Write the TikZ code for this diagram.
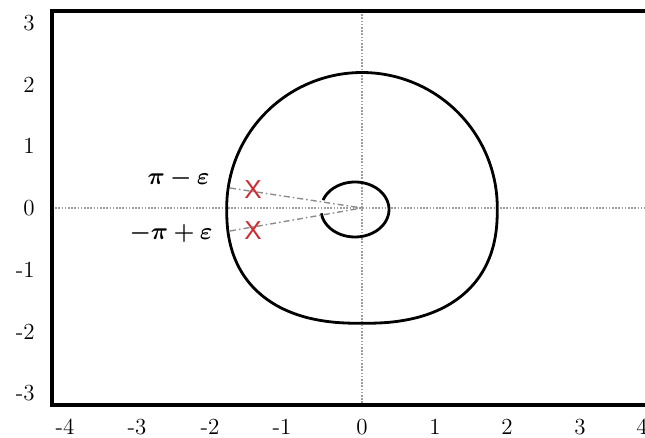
\documentclass[tikz,border=0pt]{standalone}
\usepackage{amsmath,bm}
\usepackage{fontspec}
\newfontfamily\polefont{Liberation Sans}
\definecolor{polered}{RGB}{205,45,50}
\begin{document}
\begin{tikzpicture}[x=0.5pt,y=-0.5pt,
  frame/.style={line width=2pt},
  curve/.style={line width=1.4pt, line join=round},
  axisdot/.style={gray!75, line width=0.6pt, dash pattern=on 0.8pt off 0.8pt},
  ray/.style={gray!90, line width=0.7pt, dash pattern=on 3pt off 1.5pt on 0.8pt off 1.5pt},
  ticklab/.style={font=\fontsize{11.5}{13}\selectfont, inner sep=0pt},
  anglab/.style={font=\fontsize{12}{14}\selectfont, inner sep=0pt, anchor=base east},
  pole/.style={text=polered, font=\polefont\fontsize{13}{15}\selectfont, inner sep=0pt}]
\useasboundingbox (0,0) rectangle (645,438);
\clip (0,0) rectangle (645,438);

% axes
\coordinate (O) at (362,208);
\coordinate (hl) at (52,208);
\coordinate (hr) at (645,208);
\coordinate (vt) at (362,11);
\coordinate (vb) at (362,405);
\draw[axisdot] (hl) -- (hr);
\draw[axisdot] (vt) -- (vb);

% outer contour: circular upper half, flattened lower half
\draw[curve]
  plot[domain=0:180,samples=90,variable=\t]
    ({362+135.3*cos(\t)},{207.8-135.3*sin(\t)})
  -- plot[domain=0.5:89.5,samples=60,variable=\t]
    ({362-135.3*exp(0.833*ln(cos(\t)))},{207.8+115.5*exp(0.833*ln(sin(\t)))})
  -- plot[domain=0.5:89.5,samples=60,variable=\t]
    ({362+135.3*exp(0.833*ln(sin(\t)))},{207.8+115.5*exp(0.833*ln(cos(\t)))})
  -- cycle;

% inner contour
\draw[curve] plot[domain=-172:160,samples=80,variable=\t]
  ({355+34*cos(\t)},{209.5-27.5*sin(\t)});

% rays
\coordinate (ru) at (230,188);
\coordinate (rl) at (230,231);
\draw[ray] (ru) -- (O);
\draw[ray] (rl) -- (O);

% poles
\node[pole] (xu) at (253,190) {X};
\node[pole] (xl) at (253,231) {X};

% angle labels
\node[anglab] (au) at (210,185) {$\bm{\pi-\varepsilon}$};
\node[anglab] (al) at (213,240) {$\bm{-\pi+\varepsilon}$};

% frame
\draw[frame] (690,11) -- (52,11) -- (52,405) -- (690,405);

% tick labels
\node[ticklab] (xm4) at (65,427) {-4};
\node[ticklab] (xm3) at (137,427) {-3};
\node[ticklab] (xm2) at (210,427) {-2};
\node[ticklab] (xm1) at (282,427) {-1};
\node[ticklab] (x0) at (362,427) {0};
\node[ticklab] (x1) at (435,427) {1};
\node[ticklab] (x2) at (507,427) {2};
\node[ticklab] (x3) at (580,427) {3};
\node[ticklab] (x4) at (642,427) {4};
\node[ticklab,anchor=east] (y3) at (35,22.6) {3};
\node[ticklab,anchor=east] (y2) at (35,84.4) {2};
\node[ticklab,anchor=east] (y1) at (35,146.2) {1};
\node[ticklab,anchor=east] (y0) at (35,208) {0};
\node[ticklab,anchor=east] (ym1) at (35,269.8) {-1};
\node[ticklab,anchor=east] (ym2) at (35,331.6) {-2};
\node[ticklab,anchor=east] (ym3) at (35,393.4) {-3};
\end{tikzpicture}
\end{document}
